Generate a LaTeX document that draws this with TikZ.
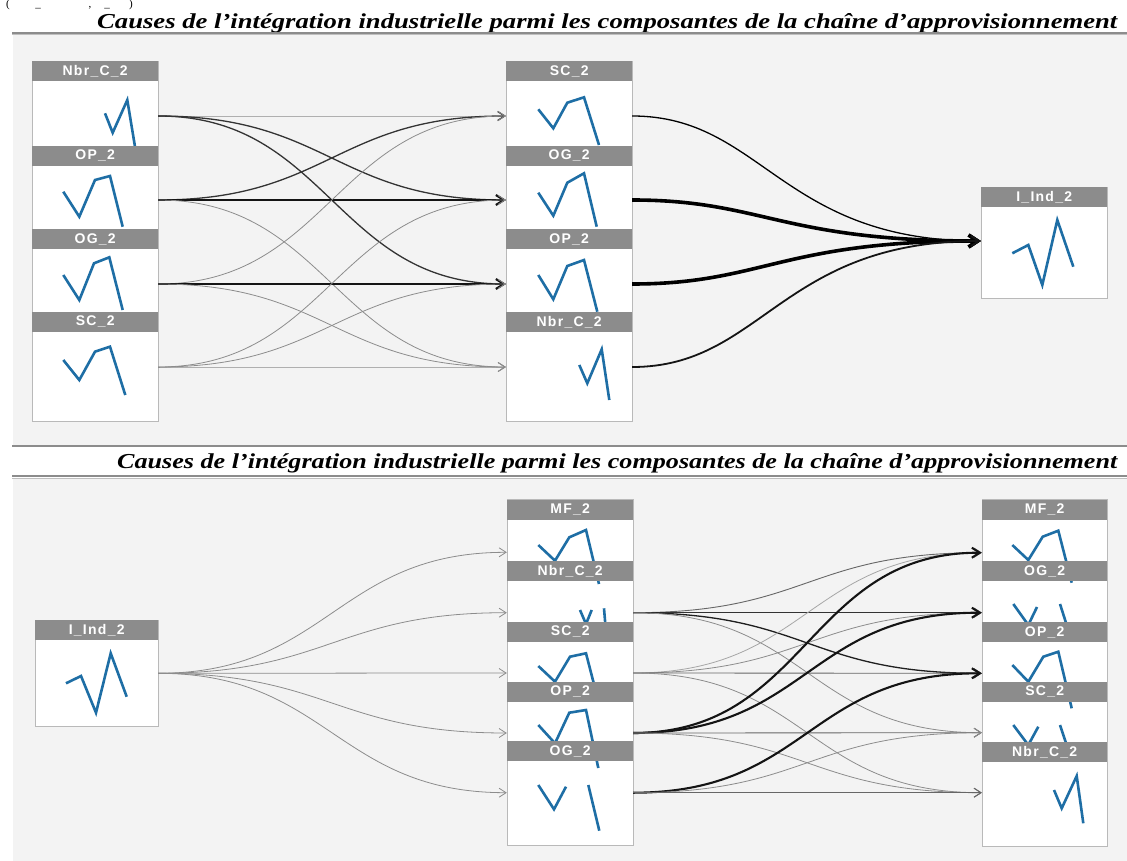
\documentclass[tikz,border=0pt]{standalone}
\usepackage{fontspec}
\setmainfont{Liberation Serif}
\newfontfamily\hdrfont{Liberation Sans}[LetterSpace=9]
\usetikzlibrary{arrows.meta}
\definecolor{panelbg}{RGB}{243,243,243}
\definecolor{hdrgray}{RGB}{140,140,140}
\definecolor{boxline}{RGB}{185,185,185}
\definecolor{spark}{RGB}{30,110,165}
\tikzset{
  colbox/.style={draw=boxline, fill=white, line width=1pt, inner sep=0pt, anchor=north west},
  hdr/.style={fill=hdrgray, text=white, font=\hdrfont\bfseries\fontsize{14}{14}\selectfont, inner sep=0pt, minimum height=20pt, anchor=north west},
  seg/.style={inner sep=0pt, minimum height=0pt, rectangle},
  spk/.style={draw=spark, line width=2.6pt},
  sflow/.style={to path={.. controls +(#1,0) and +(-#1,0) .. (\tikztotarget)}},
  sflow/.default=170,
  lite/.style={draw=black!45, line width=0.8pt, -{Straight Barb[length=7pt,width=9pt]}},
  thinl/.style={draw=black!60, line width=0.9pt, -{Straight Barb[length=7pt,width=9pt]}},
  midl/.style={draw=black!80, line width=1.3pt, -{Straight Barb[length=7pt,width=9pt]}},
  thickl/.style={draw=black!92, line width=2.1pt, -{Straight Barb[length=8pt,width=10pt]}},
  heavyl/.style={draw=black, line width=3.6pt, -{Straight Barb[length=9pt,width=12pt]}},
  titl/.style={anchor=base west, inner sep=0pt},
  cutt/.style={anchor=base, inner sep=0pt, font=\fontsize{11}{11}\selectfont},
}
\begin{document}
\begin{tikzpicture}[x=1pt,y=-1pt]
\useasboundingbox (0,0) rectangle (1127,861);
\fill[white] (0,0) rectangle (1127,861);
% fragments of a line of text at the very top
\node[cutt] (cut1) at (8,8) {(};
\node[cutt] (cut2) at (38,8) {\_};
\node[cutt] (cut3) at (90,8) {,};
\node[cutt] (cut4) at (107,8) {\_};
\node[cutt] (cut5) at (131,8) {)};

% titles and panels
\node[titl] (title1) at (97,28.3) {\resizebox{1020pt}{15pt}{\bfseries\itshape Causes de l’intégration industrielle parmi les composantes de la chaîne d’approvisionnement}};
\fill[panelbg] (13,35) rectangle (1127,445);
\draw[black!45, line width=1.2pt] (12,33) -- (1127,33);
\draw[black!25, line width=1pt] (12,35) -- (1127,35);
\draw[black!45, line width=1.2pt] (12,446) -- (1127,446);
\node[titl] (title2) at (117,468) {\resizebox{1000pt}{15pt}{\bfseries\itshape Causes de l’intégration industrielle parmi les composantes de la chaîne d’approvisionnement}};
\fill[panelbg] (13,478) rectangle (1127,861);
\draw[black!45, line width=1.2pt] (12,476) -- (1127,476);
\draw[black!25, line width=1pt] (12,478) -- (1127,478);

% ---------- TOP PANEL ----------
\node[colbox, minimum width=126pt, minimum height=360pt] (colTL) at (32,61) {};
\node[colbox, minimum width=126pt, minimum height=360pt] (colTM) at (506,61) {};
\node[colbox, minimum width=126pt, minimum height=111pt] (colTR) at (981,187) {};
% sparklines
\draw[spk] (105,113.3) -- (112.7,132.7) -- (127.3,100) -- (135,146.7);
\draw[spk] (63.3,191.7) -- (79.3,216.7) -- (95,180) -- (110,176) -- (122.7,226.7);
\draw[spk] (63.3,275) -- (79.3,300) -- (94,263.3) -- (109.3,257.3) -- (122.7,310);
\draw[spk] (63.3,360) -- (79.3,380) -- (95,351.7) -- (110,346.7) -- (125.3,395);
\draw[spk] (538.3,109.3) -- (553.3,128.3) -- (567.3,102.7) -- (584,97.3) -- (599,145);
\draw[spk] (538.3,192.7) -- (553.3,215.7) -- (567.3,182.7) -- (584,173.3) -- (596.7,226.7);
\draw[spk] (538.3,275) -- (553.3,299.3) -- (567.3,266) -- (584,260) -- (597.3,311.7);
\draw[spk] (579.3,365) -- (587.3,383.3) -- (601.7,349.3) -- (609.3,400);
\draw[spk] (1012.3,253.3) -- (1028.3,245) -- (1042.3,285) -- (1057.3,220) -- (1073.3,266.7);
% headers
\node[hdr, minimum width=126pt] (hTL1) at (32,61) {Nbr\_C\_2};
\node[hdr, minimum width=126pt] (hTL2) at (32,145.7) {OP\_2};
\node[hdr, minimum width=126pt] (hTL3) at (32,229) {OG\_2};
\node[hdr, minimum width=126pt] (hTL4) at (32,311.7) {SC\_2};
\node[hdr, minimum width=126pt] (hTM1) at (506,61) {SC\_2};
\node[hdr, minimum width=126pt] (hTM2) at (506,145.7) {OG\_2};
\node[hdr, minimum width=126pt] (hTM3) at (506,229) {OP\_2};
\node[hdr, minimum width=126pt] (hTM4) at (506,311.7) {Nbr\_C\_2};
\node[hdr, minimum width=126pt] (hTR) at (981,187) {I\_Ind\_2};
% segment anchors
\node[seg, minimum width=126pt] (sTL1) at (95,116) {};
\node[seg, minimum width=126pt] (sTL2) at (95,200) {};
\node[seg, minimum width=126pt] (sTL3) at (95,284) {};
\node[seg, minimum width=126pt] (sTL4) at (95,367) {};
\node[seg, minimum width=126pt] (sTM1) at (569,116) {};
\node[seg, minimum width=126pt] (sTM2) at (569,200) {};
\node[seg, minimum width=126pt] (sTM3) at (569,284) {};
\node[seg, minimum width=126pt] (sTM4) at (569,367) {};
\node[seg, minimum width=126pt] (sTR) at (1044,241) {};
% edges left -> middle
\draw[lite] (sTL1.east) to[sflow] (sTM1.west);
\draw[midl] (sTL1.east) to[sflow] (sTM2.west);
\draw[midl] (sTL1.east) to[sflow] (sTM3.west);
\draw[midl] (sTL2.east) to[sflow] (sTM1.west);
\draw[thickl] (sTL2.east) to[sflow] (sTM2.west);
\draw[lite] (sTL2.east) to[sflow] (sTM4.west);
\draw[lite] (sTL3.east) to[sflow] (sTM1.west);
\draw[thickl] (sTL3.east) to[sflow] (sTM3.west);
\draw[lite] (sTL3.east) to[sflow] (sTM4.west);
\draw[lite] (sTL4.east) to[sflow] (sTM2.west);
\draw[lite] (sTL4.east) to[sflow] (sTM3.west);
\draw[lite] (sTL4.east) to[sflow] (sTM4.west);
% edges middle -> I_Ind_2
\draw[midl, draw=black] (sTM1.east) .. controls +(130,0) and +(-200,0) .. (sTR.west);
\draw[heavyl] (sTM2.east) .. controls +(130,0) and +(-200,0) .. (sTR.west);
\draw[heavyl] (sTM3.east) .. controls +(130,0) and +(-200,0) .. (sTR.west);
\draw[thickl, line width=1.8pt] (sTM4.east) .. controls +(130,0) and +(-200,0) .. (sTR.west);

% ---------- BOTTOM PANEL ----------
\node[colbox, minimum width=123pt, minimum height=106pt] (colBL) at (35,620) {};
\node[colbox, minimum width=126pt, minimum height=346pt] (colBM) at (507,499) {};
\node[colbox, minimum width=125pt, minimum height=347pt] (colBR) at (982,499) {};
% sparklines
\draw[spk] (66,683.3) -- (81,676) -- (96,712.7) -- (110.7,653.3) -- (126.7,696.7);
\draw[spk] (538.3,545) -- (555,560.7) -- (569.3,537.3) -- (586,530) -- (599,584);
\draw[spk] (580,610) -- (586,624) -- (591.7,610);
\draw[spk] (604,608.3) -- (605.3,624);
\draw[spk] (538.3,666) -- (555,681.7) -- (570,656.7) -- (586,653.3) -- (596,692);
\draw[spk] (538.3,725) -- (555,743.3) -- (569.3,712.7) -- (586,710) -- (598.3,768);
\draw[spk] (538.3,785) -- (554,809.3) -- (566,786.7);
\draw[spk] (588.3,785) -- (599.3,830.7);
\draw[spk] (1012.3,545) -- (1028.3,560) -- (1042.7,536.7) -- (1058.3,530.7) -- (1071.7,582.7);
\draw[spk] (1013.3,604) -- (1028.3,625) -- (1037,607);
\draw[spk] (1060,604) -- (1066.7,625);
\draw[spk] (1012.3,665) -- (1028.3,681.7) -- (1043.3,656.7) -- (1058.3,651.7) -- (1071.7,708.3);
\draw[spk] (1013.3,725) -- (1028.3,745) -- (1038.3,726.7);
\draw[spk] (1060,725) -- (1066.7,745);
\draw[spk] (1054,790) -- (1061.7,808.3) -- (1076.7,776) -- (1083.3,823.3);
% headers
\node[hdr, minimum width=123pt] (hBL) at (35,620) {I\_Ind\_2};
\node[hdr, minimum width=126pt] (hBM1) at (507,499.3) {MF\_2};
\node[hdr, minimum width=126pt] (hBM2) at (507,561) {Nbr\_C\_2};
\node[hdr, minimum width=126pt] (hBM3) at (507,621.7) {SC\_2};
\node[hdr, minimum width=126pt] (hBM4) at (507,681.7) {OP\_2};
\node[hdr, minimum width=126pt] (hBM5) at (507,741) {OG\_2};
\node[hdr, minimum width=125pt] (hBR1) at (982,499.3) {MF\_2};
\node[hdr, minimum width=125pt] (hBR2) at (982,561) {OG\_2};
\node[hdr, minimum width=125pt] (hBR3) at (982,622) {OP\_2};
\node[hdr, minimum width=125pt] (hBR4) at (982,681.7) {SC\_2};
\node[hdr, minimum width=125pt] (hBR5) at (982,741.7) {Nbr\_C\_2};
% segment anchors
\node[seg, minimum width=123pt] (sBL) at (96.5,673.3) {};
\node[seg, minimum width=126pt] (sBM1) at (570,552.3) {};
\node[seg, minimum width=126pt] (sBM2) at (570,612.7) {};
\node[seg, minimum width=126pt] (sBM3) at (570,673) {};
\node[seg, minimum width=126pt] (sBM4) at (570,733) {};
\node[seg, minimum width=126pt] (sBM5) at (570,792.7) {};
\node[seg, minimum width=125pt] (sBR1) at (1044.5,552.7) {};
\node[seg, minimum width=125pt] (sBR2) at (1044.5,612.7) {};
\node[seg, minimum width=125pt] (sBR3) at (1044.5,673.3) {};
\node[seg, minimum width=125pt] (sBR4) at (1044.5,732.7) {};
\node[seg, minimum width=125pt] (sBR5) at (1044.5,792.7) {};
% edges I_Ind_2 -> middle
\draw[lite] (sBL.east) to[sflow] (sBM1.west);
\draw[lite] (sBL.east) to[sflow] (sBM2.west);
\draw[lite] (sBL.east) to[sflow] (sBM3.west);
\draw[lite] (sBL.east) to[sflow] (sBM4.west);
\draw[lite] (sBL.east) to[sflow] (sBM5.west);
% edges middle -> right
\draw[thinl] (sBM2.east) to[sflow=175] (sBR1.west);
\draw[midl] (sBM2.east) to[sflow=175] (sBR2.west);
\draw[midl, draw=black!88] (sBM2.east) to[sflow=175] (sBR3.west);
\draw[lite] (sBM2.east) to[sflow=175] (sBR4.west);
\draw[lite, draw=black!35] (sBM3.east) to[sflow=175] (sBR1.west);
\draw[lite] (sBM3.east) to[sflow=175] (sBR2.west);
\draw[thinl] (sBM3.east) to[sflow=175] (sBR3.west);
\draw[lite] (sBM3.east) to[sflow=175] (sBR5.west);
\draw[thickl] (sBM4.east) to[sflow=175] (sBR1.west);
\draw[thickl] (sBM4.east) to[sflow=175] (sBR2.west);
\draw[thinl] (sBM4.east) to[sflow=175] (sBR4.west);
\draw[lite] (sBM4.east) to[sflow=175] (sBR5.west);
\draw[thickl] (sBM5.east) to[sflow=175] (sBR3.west);
\draw[lite] (sBM5.east) to[sflow=175] (sBR4.west);
\draw[thinl] (sBM5.east) to[sflow=175] (sBR5.west);
\end{tikzpicture}
\end{document}
